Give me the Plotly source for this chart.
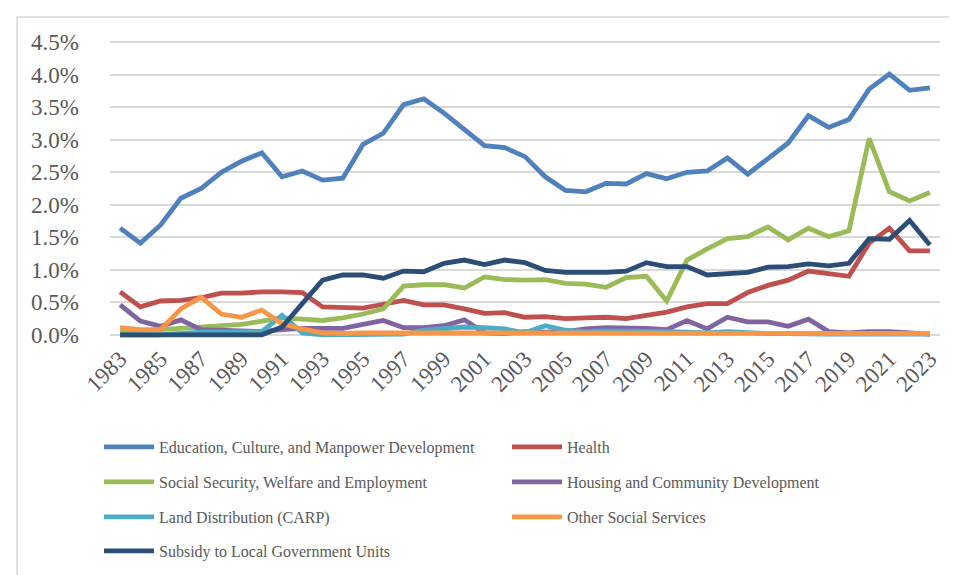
import plotly.graph_objects as go

years = list(range(1983, 2024))

education = [1.64, 1.41, 1.69, 2.10, 2.25, 2.50, 2.67, 2.80, 2.43, 2.52,
             2.38, 2.41, 2.93, 3.10, 3.54, 3.63, 3.41, 3.16, 2.91, 2.88,
             2.74, 2.43, 2.22, 2.20, 2.33, 2.32, 2.48, 2.40, 2.50, 2.52,
             2.72, 2.47, 2.70, 2.95, 3.37, 3.19, 3.31, 3.78, 4.01, 3.76, 3.80]
health = [0.66, 0.43, 0.52, 0.53, 0.57, 0.64, 0.64, 0.66, 0.66, 0.65,
          0.43, 0.42, 0.41, 0.47, 0.53, 0.46, 0.46, 0.40, 0.33, 0.34,
          0.27, 0.28, 0.25, 0.26, 0.27, 0.25, 0.30, 0.35, 0.43, 0.48,
          0.48, 0.65, 0.76, 0.84, 0.98, 0.94, 0.90, 1.41, 1.64, 1.29, 1.29]
social = [0.06, 0.06, 0.08, 0.10, 0.13, 0.14, 0.16, 0.21, 0.26, 0.24,
          0.22, 0.26, 0.32, 0.40, 0.75, 0.77, 0.77, 0.72, 0.89, 0.85,
          0.84, 0.85, 0.79, 0.78, 0.73, 0.88, 0.90, 0.52, 1.15, 1.32,
          1.48, 1.51, 1.66, 1.46, 1.64, 1.51, 1.60, 3.02, 2.20, 2.06, 2.19]
housing = [0.46, 0.21, 0.13, 0.23, 0.08, 0.07, 0.06, 0.05, 0.08, 0.10,
           0.10, 0.10, 0.16, 0.22, 0.11, 0.11, 0.14, 0.23, 0.03, 0.02,
           0.05, 0.04, 0.05, 0.09, 0.11, 0.11, 0.10, 0.08, 0.22, 0.09,
           0.27, 0.20, 0.20, 0.13, 0.24, 0.05, 0.03, 0.05, 0.05, 0.03, 0.01]
land = [0.00, 0.00, 0.00, 0.02, 0.04, 0.04, 0.04, 0.05, 0.30, 0.03,
        0.00, 0.00, 0.00, 0.00, 0.01, 0.07, 0.10, 0.12, 0.11, 0.09,
        0.03, 0.14, 0.07, 0.05, 0.06, 0.06, 0.05, 0.05, 0.04, 0.03,
        0.05, 0.03, 0.02, 0.02, 0.01, 0.01, 0.01, 0.01, 0.01, 0.01, 0.01]
other = [0.11, 0.08, 0.08, 0.40, 0.58, 0.32, 0.27, 0.38, 0.17, 0.09,
         0.03, 0.02, 0.03, 0.03, 0.03, 0.03, 0.03, 0.03, 0.03, 0.03,
         0.03, 0.03, 0.03, 0.03, 0.03, 0.03, 0.03, 0.03, 0.02, 0.02,
         0.02, 0.02, 0.02, 0.02, 0.02, 0.02, 0.02, 0.02, 0.02, 0.02, 0.02]
subsidy = [0.00, 0.00, 0.00, 0.00, 0.00, 0.00, 0.00, 0.00, 0.12, 0.49,
           0.84, 0.92, 0.92, 0.87, 0.98, 0.97, 1.10, 1.15, 1.08, 1.15,
           1.11, 0.99, 0.96, 0.96, 0.96, 0.98, 1.11, 1.05, 1.05, 0.92,
           0.94, 0.96, 1.04, 1.05, 1.09, 1.06, 1.10, 1.48, 1.47, 1.76, 1.38]

series_names = [
    "Education, Culture, and Manpower Development",
    "Health",
    "Social Security, Welfare and Employment",
    "Housing and Community Development",
    "Land Distribution (CARP)",
    "Other Social Services",
    "Subsidy to Local Government Units",
]
series_values = [education, health, social, housing, land, other, subsidy]
series_colors = ["#4F81BD", "#C0504D", "#9BBB59", "#8064A2", "#4BACC6", "#F79646", "#2C4D75"]
legend_ids = ["legend", "legend", "legend2", "legend2", "legend3", "legend3", "legend4"]

y_ticks = [0.0, 0.5, 1.0, 1.5, 2.0, 2.5, 3.0, 3.5, 4.0, 4.5]
y_ticklabels = ["0.0%", "0.5%", "1.0%", "1.5%", "2.0%", "2.5%", "3.0%", "3.5%", "4.0%", "4.5%"]
x_ticks = list(range(1983, 2024, 2))
x_ticklabels = [str(y) for y in x_ticks]

FONT = "Liberation Serif"
W, H = 957, 575

fig = go.Figure()
for name, vals, col, lg in zip(series_names, series_values, series_colors, legend_ids):
    fig.add_trace(go.Scatter(
        x=years, y=vals, name=name, mode="lines",
        line=dict(color=col, width=4.8), legend=lg,
    ))

# plot-area geometry (pixels)
L, R, T, B = 102, 25, 31, 243
pw = W - L - R
ph = H - T - B

def px2paper_x(px):
    return (px - L) / pw

def px2paper_y(py):
    return (H - B - py) / ph

fig.add_shape(type="rect", xref="paper", yref="paper",
              x0=px2paper_x(9), x1=px2paper_x(950),
              y0=px2paper_y(590), y1=px2paper_y(9),
              line=dict(color="#d9d9d9", width=1.5), fillcolor="rgba(0,0,0,0)",
              layer="below")

legend_common = dict(
    orientation="h", xref="container", yref="container",
    xanchor="left", yanchor="middle",
    font=dict(family=FONT, size=16, color="#595959"),
    entrywidth=343, entrywidthmode="pixels",
    bgcolor="rgba(0,0,0,0)", itemwidth=50,
)
row_y = [439, 474, 509, 543]
leg_x = 91 / W

fig.update_layout(
    width=W, height=H,
    margin=dict(l=L, r=R, t=T, b=B),
    paper_bgcolor="white", plot_bgcolor="white",
    font=dict(family=FONT, color="#595959"),
    showlegend=True,
    xaxis=dict(
        range=[1982.5, 2023.5], tickmode="array", tickvals=x_ticks, ticktext=x_ticklabels,
        tickangle=-45, tickfont=dict(family=FONT, size=23, color="#595959"),
        showgrid=False, zeroline=False, showline=False, ticks="",
    ),
    yaxis=dict(
        range=[-0.08, 4.55], tickmode="array", tickvals=y_ticks, ticktext=y_ticklabels,
        tickfont=dict(family=FONT, size=23, color="#595959"),
        showgrid=True, gridcolor="#d9d9d9", gridwidth=1.5,
        zeroline=False, showline=False, ticks="", ticklabelstandoff=30,
    ),
    legend=dict(legend_common, x=leg_x, y=1 - row_y[0] / H),
    legend2=dict(legend_common, x=leg_x, y=1 - row_y[1] / H),
    legend3=dict(legend_common, x=leg_x, y=1 - row_y[2] / H),
    legend4=dict(legend_common, x=leg_x, y=1 - row_y[3] / H),
)

fig.write_html("out.html")
